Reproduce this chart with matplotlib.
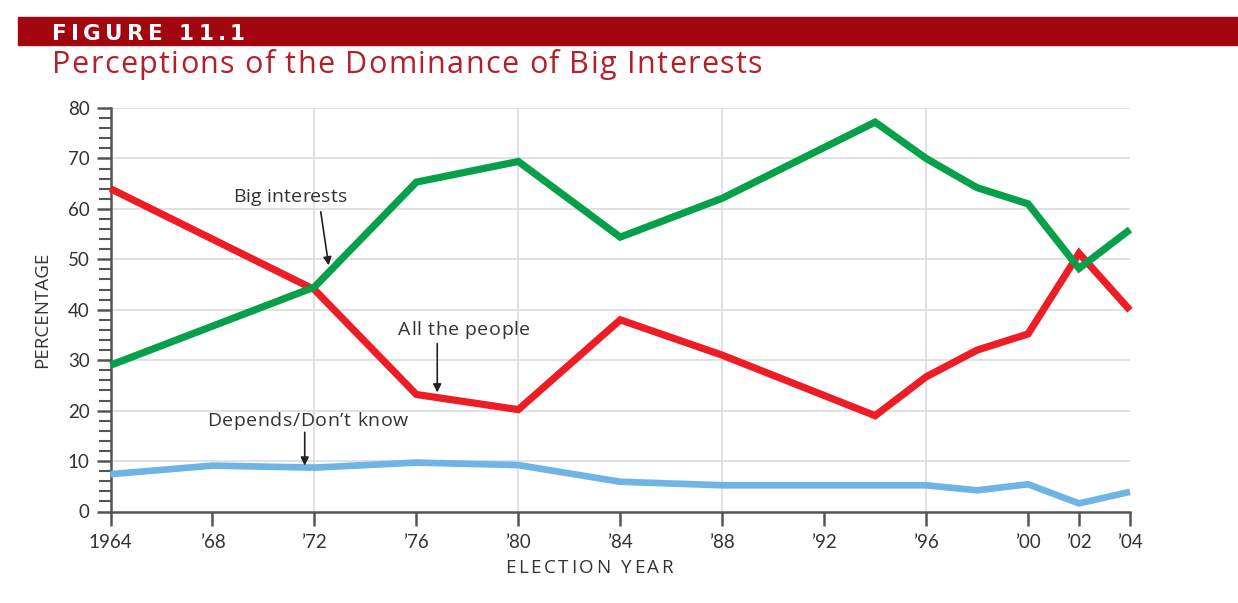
import matplotlib
matplotlib.use("Agg")
import matplotlib.pyplot as plt
from matplotlib.patches import Rectangle
from matplotlib.ticker import MultipleLocator

# ---- data ----
big_years = [1964, 1972, 1976, 1980, 1984, 1988, 1994, 1996, 1998, 2000, 2002, 2004]
big_vals = [29, 44.5, 65.3, 69.4, 54.4, 62.1, 77.2, 70.0, 64.2, 61.0, 48.2, 55.9]

people_years = [1964, 1972, 1976, 1980, 1984, 1988, 1994, 1996, 1998, 2000, 2002, 2004]
people_vals = [64, 44.0, 23.2, 20.2, 38.0, 31.0, 19.0, 26.7, 32.0, 35.2, 51.2, 39.9]

dk_years = [1964, 1968, 1972, 1976, 1980, 1984, 1988, 1992, 1996, 1998, 2000, 2002, 2004]
dk_vals = [7.4, 9.1, 8.7, 9.7, 9.2, 5.9, 5.2, 5.2, 5.2, 4.2, 5.4, 1.6, 3.9]

xtick_vals = [1964, 1968, 1972, 1976, 1980, 1984, 1988, 1992, 1996, 2000, 2002, 2004]
xtick_labels = ["1964", "’68", "’72", "’76", "’80", "’84", "’88", "’92", "’96", "’00", "’02", "’04"]
ytick_vals = [0, 10, 20, 30, 40, 50, 60, 70, 80]
vgrid_years = [1972, 1980, 1988, 1996]

W, H = 1238, 603
plt.rcParams['font.family'] = ['Lato', 'DejaVu Sans']

fig = plt.figure(figsize=(W / 100, H / 100), dpi=100)
fig.patch.set_facecolor("white")
renderer = fig.canvas.get_renderer()


def _w(s, **kw):
    t = fig.text(0, 0, s, **kw)
    w = t.get_window_extent(renderer).width
    t.remove()
    return w


def tracked(x0, x1, ybase, s, **kw):
    """Draw string s (baseline at ybase px from top) spread from x0 to x1 px."""
    bar = _w("|", **kw)
    adv = [(_w(s[:i] + "|", **kw) - bar) if i else 0.0 for i in range(len(s) + 1)]
    last = _w(s[-1], **kw)
    natural = adv[len(s) - 1] + last
    track = (x1 - x0 - natural) / max(len(s) - 1, 1)
    for i, ch in enumerate(s):
        if ch == " ":
            continue
        fig.text((x0 + adv[i] + i * track) / W, 1 - ybase / H, ch,
                 ha="left", va="baseline", **kw)


# header bar
fig.patches.append(Rectangle((18 / W, 1 - 45 / H), 1.0, 28 / H,
                             transform=fig.transFigure, color="#A2070F", zorder=0))
tracked(52, 245, 39.5, "FIGURE 11.1", color="white", fontsize=15.5,
        fontweight="bold", family=['DejaVu Sans'])
tracked(52, 762, 73, "Perceptions of the Dominance of Big Interests",
        color="#B3202A", fontsize=22, family=['Open Sans', 'DejaVu Sans'])

ax = fig.add_axes([110.5 / W, 1 - 511.5 / H, (1130 - 110.5) / W, (511.5 - 108) / H])
ax.set_xlim(1964, 2004)
ax.set_ylim(0, 80)

for y in ytick_vals[1:]:
    ax.axhline(y, color="#DCDCDC", lw=1.2, zorder=1)
for x in vgrid_years:
    ax.axvline(x, color="#DCDCDC", lw=1.2, zorder=1)

ax.plot(dk_years, dk_vals, color="#6EB4E6", lw=4.8, solid_joinstyle="round",
        solid_capstyle="butt", zorder=3, clip_on=False)
ax.plot(people_years, people_vals, color="#EE1C25", lw=5.2, solid_joinstyle="miter",
        solid_capstyle="butt", zorder=4, clip_on=False)
ax.plot(big_years, big_vals, color="#06A04B", lw=5.2, solid_joinstyle="miter",
        solid_capstyle="butt", zorder=5, clip_on=False)

for s in ["top", "right"]:
    ax.spines[s].set_visible(False)
for s in ["left", "bottom"]:
    ax.spines[s].set_color("#555555")
    ax.spines[s].set_linewidth(1.8)

ax.set_xticks(xtick_vals)
ax.set_xticklabels(xtick_labels)
ax.set_yticks(ytick_vals)
ax.yaxis.set_minor_locator(MultipleLocator(2))
ax.tick_params(axis="both", which="major", length=10, width=1.8, color="#555555",
               labelsize=13.5, labelcolor="#333333")
ax.tick_params(axis="y", which="minor", length=9, width=1.5, color="#555555")
ax.tick_params(axis="x", pad=6)
ax.tick_params(axis="y", pad=5)

ax.set_ylabel("PERCENTAGE", fontsize=13.5, color="#333333", labelpad=12,
              family=['Open Sans', 'DejaVu Sans'])

tracked(505, 673, 573, "ELECTION YEAR", fontsize=13.5, color="#333333",
        family=['Open Sans', 'DejaVu Sans'])

arrow = dict(arrowstyle="-|>", color="#222222", lw=1.2, mutation_scale=12,
             shrinkA=0, shrinkB=0)
ax.annotate("", xy=(1972.56, 48.8), xytext=(1972.25, 59.4), arrowprops=arrow, zorder=6)
ax.annotate("", xy=(1976.82, 23.6), xytext=(1976.82, 33.3), arrowprops=arrow, zorder=6)
ax.annotate("", xy=(1971.62, 9.1), xytext=(1971.62, 15.7), arrowprops=arrow, zorder=6)

lab = dict(fontsize=14, color="#333333", family=['Open Sans', 'DejaVu Sans'])
tracked(233, 347, 202, "Big interests", **lab)
tracked(398, 530, 335, "All the people", **lab)
tracked(207, 408, 426, "Depends/Don’t know", **lab)

fig.savefig("out.png", dpi=100)
